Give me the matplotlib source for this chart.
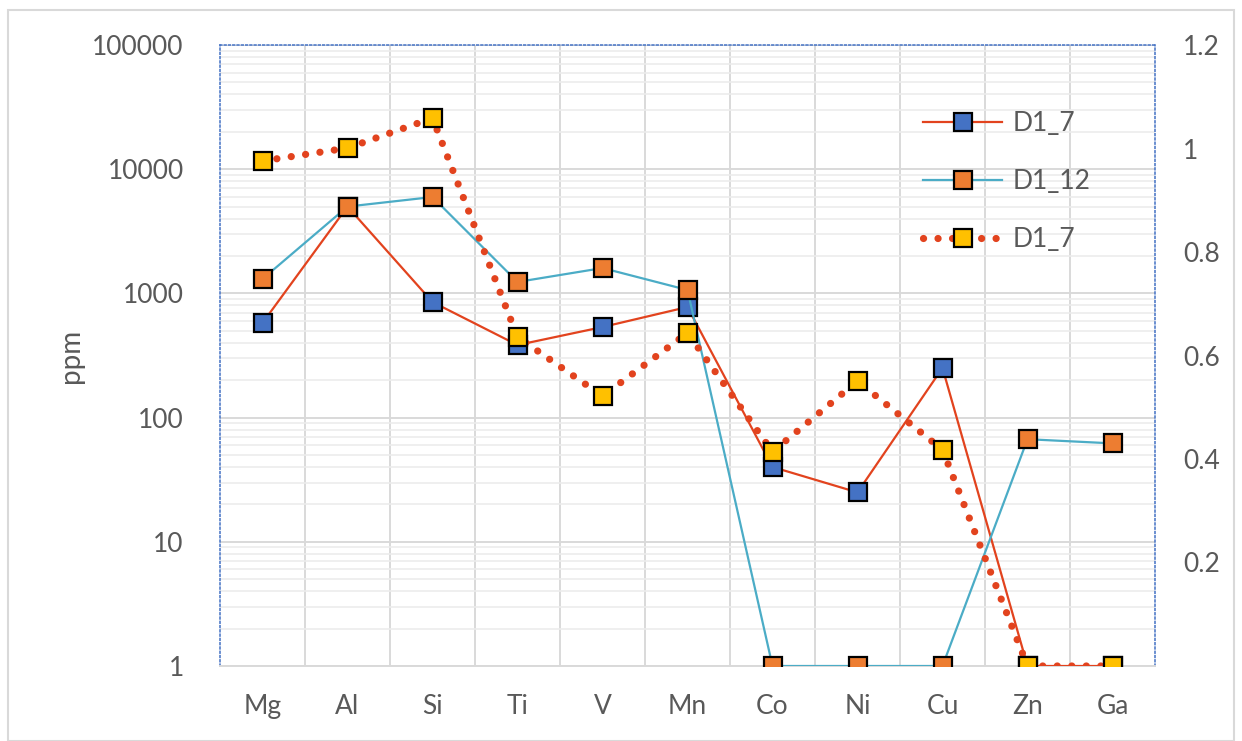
import numpy as np
import matplotlib
matplotlib.use('Agg')
import matplotlib.pyplot as plt
from matplotlib.ticker import FixedLocator, NullFormatter

plt.rcParams['font.family'] = ['Lato', 'DejaVu Sans']

elements = ['Mg', 'Al', 'Si', 'Ti', 'V', 'Mn', 'Co', 'Ni', 'Cu', 'Zn', 'Ga']
d1_7 = [578, 5000, 852, 384, 536, 777, 40, 25, 251, 1, 1]
d1_12 = [1306, 5000, 5970, 1236, 1600, 1065, 1, 1, 1, 67, 62]
d1_7b = [11650, 14800, 25800, 446, 149, 480, 53, 197, 55, 1, 1]

right_ticks = [0.2, 0.4, 0.6, 0.8, 1.0, 1.2]
right_labels = ['0.2', '0.4', '0.6', '0.8', '1', '1.2']

txt = '#595959'
fs = 19
fig = plt.figure(figsize=(12.42, 7.41), dpi=100)
fig.patch.set_facecolor('white')
# outer chart border
fig.add_artist(plt.Rectangle((8 / 1242, 0.0), 1226 / 1242, 1 - 10 / 741,
                             transform=fig.transFigure, fill=False,
                             edgecolor='#d9d9d9', linewidth=1.5))

ax = fig.add_axes([220 / 1242, 1 - 666 / 741, 935 / 1242, 621 / 741])
x = np.arange(len(elements))

ax.set_yscale('log')
ax.set_ylim(1, 100000)
ax.set_xlim(-0.5, len(elements) - 0.5)

ax.set_xticks(x)
ax.set_xticklabels(elements)
ax.xaxis.set_minor_locator(FixedLocator(x[:-1] + 0.5))
ax.grid(which='minor', axis='x', color='#d9d9d9', linewidth=1.4)
ax.grid(which='major', axis='y', color='#d9d9d9', linewidth=1.4)
ax.grid(which='minor', axis='y', color='#ececec', linewidth=1.2)
ax.yaxis.set_minor_formatter(NullFormatter())
ax.set_yticks([1, 10, 100, 1000, 10000, 100000])
ax.set_yticklabels(['1', '10', '100', '1000', '10000', '100000'])
ax.tick_params(which='both', length=0)
ax.tick_params(axis='x', labelsize=fs, colors=txt, pad=20)
ax.tick_params(axis='y', labelsize=fs, colors=txt, pad=26)
ax.set_ylabel('ppm', fontsize=fs + 1, color=txt, labelpad=6)
ax.set_axisbelow(True)

for side in ['left', 'top', 'right']:
    ax.spines[side].set_color('#4472c4')
    ax.spines[side].set_linestyle((0, (1.2, 1.6)))
    ax.spines[side].set_linewidth(1.1)
ax.spines['bottom'].set_color('#d9d9d9')
ax.spines['bottom'].set_linewidth(1.4)

mk = dict(marker='s', markersize=13, markeredgecolor='black', markeredgewidth=1.6)
ax.plot(x, d1_7, color='#e2431e', linewidth=1.6, markerfacecolor='#4472c4',
        label='D1_7', zorder=3, **mk)
ax.plot(x, d1_12, color='#4bacc6', linewidth=1.6, markerfacecolor='#ed7d31',
        label='D1_12', zorder=4, **mk)
ax.plot(x, d1_7b, color='#e2431e', linewidth=5.2, linestyle=(0, (0.01, 2.0)),
        dash_capstyle='round', markerfacecolor='#ffc000', label='D1_7',
        zorder=5, **mk)

leg = ax.legend(loc='upper left', bbox_to_anchor=(0.752, 0.893), frameon=False,
                fontsize=fs, labelcolor=txt, handlelength=3.0, labelspacing=1.25,
                handletextpad=0.4, borderpad=0, borderaxespad=0)

ax2 = ax.twinx()
ax2.set_ylim(0, 1.2)
ax2.set_yticks(right_ticks)
ax2.set_yticklabels(right_labels)
ax2.tick_params(length=0, labelsize=fs, colors=txt, pad=20)
for s in ax2.spines.values():
    s.set_visible(False)

fig.savefig('out.png', dpi=100)
